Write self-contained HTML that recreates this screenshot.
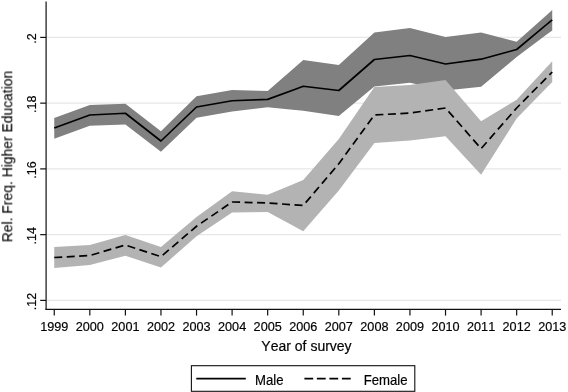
<!DOCTYPE html>
<html><head><meta charset="utf-8"><style>
html,body{margin:0;padding:0;background:#fff;}
svg{display:block;font-family:"Liberation Sans",sans-serif;font-kerning:none;}
text{stroke:#000;stroke-width:0.2px;}
</style></head><body>
<svg width="568" height="392" viewBox="0 0 568 392">
<rect width="568" height="392" fill="#fff"/>
<g opacity="0.999">
<g stroke="#e7e7e7" stroke-width="1.3" fill="none"><line x1="46.5" x2="561" y1="37.4" y2="37.4"/><line x1="46.5" x2="561" y1="103.15" y2="103.15"/><line x1="46.5" x2="561" y1="168.9" y2="168.9"/><line x1="46.5" x2="561" y1="234.65" y2="234.65"/><line x1="46.5" x2="561" y1="300.4" y2="300.4"/></g>
<polygon points="54.25,118.00 89.82,105.00 125.39,103.75 160.96,131.25 196.53,96.25 232.10,90.00 267.67,91.00 303.24,60.00 338.81,65.00 374.38,32.50 409.95,28.00 445.52,37.00 481.09,32.60 516.66,41.70 552.23,10.10 552.23,30.40 516.66,57.10 481.09,86.70 445.52,90.50 409.95,82.70 374.38,86.50 338.81,115.90 303.24,110.70 267.67,107.30 232.10,111.50 196.53,117.70 160.96,151.75 125.39,124.50 89.82,125.75 54.25,138.75" fill="#808080"/>
<polygon points="54.25,247.00 89.82,245.00 125.39,235.00 160.96,247.00 196.53,217.00 232.10,191.25 267.67,194.70 303.24,180.00 338.81,139.00 374.38,87.00 409.95,85.00 445.52,80.00 481.09,121.30 516.66,99.80 552.23,61.20 552.23,82.00 516.66,118.60 481.09,174.80 445.52,136.25 409.95,140.50 374.38,143.00 338.81,190.50 303.24,231.25 267.67,212.00 232.10,212.50 196.53,236.25 160.96,267.50 125.39,255.75 89.82,265.00 54.25,268.00" fill="#b3b3b3"/>
<polyline points="54.25,128.00 89.82,115.00 125.39,113.25 160.96,141.00 196.53,107.00 232.10,100.75 267.67,99.40 303.24,86.25 338.81,90.50 374.38,59.50 409.95,55.50 445.52,64.00 481.09,59.20 516.66,49.50 552.23,19.80" fill="none" stroke="#000" stroke-width="1.7" stroke-linejoin="round"/>
<polyline points="54.25,257.50 89.82,255.50 125.39,245.00 160.96,256.70 196.53,226.25 232.10,202.00 267.67,203.00 303.24,205.50 338.81,163.75 374.38,115.00 409.95,113.00 445.52,108.00 481.09,148.60 516.66,108.00 552.23,72.00" fill="none" stroke="#000" stroke-width="1.7" stroke-dasharray="8,4.5" stroke-linejoin="round"/>
<g stroke="#111" stroke-width="1.2" fill="none">
<line x1="46.1" x2="46.1" y1="1.5" y2="309.9"/>
<line x1="45.5" x2="561" y1="309.35" y2="309.35"/>
<line x1="40.2" x2="46" y1="37.4" y2="37.4"/><line x1="40.2" x2="46" y1="103.15" y2="103.15"/><line x1="40.2" x2="46" y1="168.9" y2="168.9"/><line x1="40.2" x2="46" y1="234.65" y2="234.65"/><line x1="40.2" x2="46" y1="300.4" y2="300.4"/><line x1="54.25" x2="54.25" y1="309.3" y2="315.6"/><line x1="89.82" x2="89.82" y1="309.3" y2="315.6"/><line x1="125.39" x2="125.39" y1="309.3" y2="315.6"/><line x1="160.96" x2="160.96" y1="309.3" y2="315.6"/><line x1="196.53" x2="196.53" y1="309.3" y2="315.6"/><line x1="232.10" x2="232.10" y1="309.3" y2="315.6"/><line x1="267.67" x2="267.67" y1="309.3" y2="315.6"/><line x1="303.24" x2="303.24" y1="309.3" y2="315.6"/><line x1="338.81" x2="338.81" y1="309.3" y2="315.6"/><line x1="374.38" x2="374.38" y1="309.3" y2="315.6"/><line x1="409.95" x2="409.95" y1="309.3" y2="315.6"/><line x1="445.52" x2="445.52" y1="309.3" y2="315.6"/><line x1="481.09" x2="481.09" y1="309.3" y2="315.6"/><line x1="516.66" x2="516.66" y1="309.3" y2="315.6"/><line x1="552.23" x2="552.23" y1="309.3" y2="315.6"/>
</g>
<g font-size="13px" fill="#000" opacity="0.999"><text transform="translate(35.7,38.5) rotate(-90) scale(0.97,1)" text-anchor="middle">.2</text><text transform="translate(35.7,104.25) rotate(-90) scale(0.97,1)" text-anchor="middle">.18</text><text transform="translate(35.7,170.0) rotate(-90) scale(0.97,1)" text-anchor="middle">.16</text><text transform="translate(35.7,235.75) rotate(-90) scale(0.97,1)" text-anchor="middle">.14</text><text transform="translate(35.7,301.5) rotate(-90) scale(0.97,1)" text-anchor="middle">.12</text><text transform="translate(54.25,331) scale(0.975,1)" text-anchor="middle">1999</text><text transform="translate(89.82,331) scale(0.975,1)" text-anchor="middle">2000</text><text transform="translate(125.39,331) scale(0.975,1)" text-anchor="middle">2001</text><text transform="translate(160.96,331) scale(0.975,1)" text-anchor="middle">2002</text><text transform="translate(196.53,331) scale(0.975,1)" text-anchor="middle">2003</text><text transform="translate(232.10,331) scale(0.975,1)" text-anchor="middle">2004</text><text transform="translate(267.67,331) scale(0.975,1)" text-anchor="middle">2005</text><text transform="translate(303.24,331) scale(0.975,1)" text-anchor="middle">2006</text><text transform="translate(338.81,331) scale(0.975,1)" text-anchor="middle">2007</text><text transform="translate(374.38,331) scale(0.975,1)" text-anchor="middle">2008</text><text transform="translate(409.95,331) scale(0.975,1)" text-anchor="middle">2009</text><text transform="translate(445.52,331) scale(0.975,1)" text-anchor="middle">2010</text><text transform="translate(481.09,331) scale(0.975,1)" text-anchor="middle">2011</text><text transform="translate(516.66,331) scale(0.975,1)" text-anchor="middle">2012</text><text transform="translate(552.23,331) scale(0.975,1)" text-anchor="middle">2013</text></g>
<g opacity="0.999" fill="#000">
<text x="306.5" y="350.5" font-size="14px" text-anchor="middle">Year of survey</text>
<text transform="translate(12.3,156.5) rotate(-90)" font-size="13.9px" text-anchor="middle" style="stroke-width:0.08px">Rel. Freq. Higher Education</text>
</g>
<rect x="191.4" y="365.7" width="223.4" height="25.6" fill="none" stroke="#111" stroke-width="1.1"/>
<line x1="196.3" x2="245.8" y1="378.7" y2="378.7" stroke="#000" stroke-width="1.7"/>
<line x1="304.4" x2="351.3" y1="378.7" y2="378.7" stroke="#000" stroke-width="1.7" stroke-dasharray="8.8,3.7"/>
<g font-size="14px" opacity="0.999"><text transform="translate(255,384.6) scale(0.94,1)">Male</text><text transform="translate(363.7,384.5) scale(0.94,1)">Female</text></g>
</g>
</svg>
</body></html>
